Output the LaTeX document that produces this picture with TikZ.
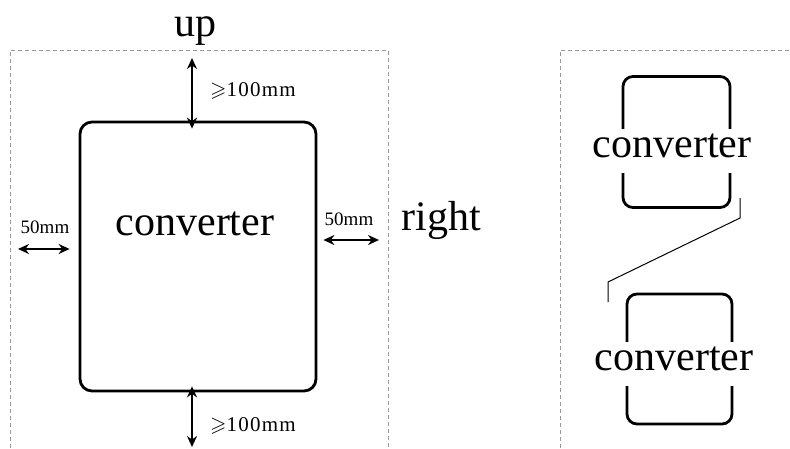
\documentclass[tikz,border=0pt]{standalone}
\usepackage{fontspec}
\setmainfont{Liberation Serif}
\newfontfamily\gapfont[LetterSpace=6]{Liberation Serif}
\usepackage{amssymb}
\usetikzlibrary{arrows.meta, positioning}

\tikzset{
  frame/.style={gray!80, line width=0.8pt, dash pattern=on 4pt off 3pt},
  unit/.style={draw, line width=2.8pt, rounded corners=12pt, inner sep=0pt},
  bigtext/.style={font=\fontsize{42}{48}\selectfont, inner sep=0pt, anchor=base},
  tag/.style={bigtext, fill=white, text height=28pt, text depth=16pt},
  gaptext/.style={font=\gapfont\fontsize{21}{24}\selectfont, inner sep=0pt, anchor=base west},
  sidetext/.style={font=\fontsize{19}{22}\selectfont, inner sep=0pt, anchor=base},
  dim/.style={line width=1.8pt, {Stealth[length=11pt,width=10pt]}-{Stealth[length=11pt,width=10pt]}},
  link/.style={line width=1pt},
}

\begin{document}
\begin{tikzpicture}[x=1pt, y=-1pt]
    \useasboundingbox[fill=white] (0,0) rectangle (790,448);

    % Left: clearance around one converter
    \draw[frame] (10,448) -- (10,50) -- (388,50) -- (388,448);
    \node[bigtext] (up) at (195,36) {up};
    \node[bigtext] (right) at (441,230) {right};

    \node[unit, minimum width=236pt, minimum height=269pt] (conv) at (198,256.5) {};
    \node[bigtext] (convlabel) at (195,235) {converter};

    % Clearance arrows
    \coordinate (ftop) at (192,58);
    \coordinate (fbot) at (192,447);
    \coordinate (fleft) at (18,249);
    \coordinate (fright) at (379,240);
    \draw[dim] (ftop) -- ([yshift=-8pt]ftop |- conv.north);
    \draw[dim] ([yshift=6pt]fbot |- conv.south) -- (fbot);
    \draw[dim] (fleft) -- ([xshift=-9pt]fleft -| conv.west);
    \draw[dim] ([xshift=6pt]fright -| conv.east) -- (fright);

    \node[gaptext] (topgap) at (210,96) {$\geqslant$100mm};
    \node[gaptext] (botgap) at (210,431) {$\geqslant$100mm};
    \node[sidetext] (leftgap) at (45,233) {50mm};
    \node[sidetext] (rightgap) at (349,225) {50mm};

    % Right: two converters stacked
    \draw[frame] (560,448) -- (560,50) -- (790,50);
    \node[unit, rounded corners=10pt, minimum width=107pt, minimum height=131pt] (upper) at (676.5,142) {};
    \node[tag] (upperlabel) at (672,157) {converter};
    \node[unit, rounded corners=10pt, minimum width=105pt, minimum height=130pt] (lower) at (679.5,359) {};
    \node[tag] (lowerlabel) at (674,370) {converter};

    \coordinate (ua) at (740,198);
    \coordinate (ub) at (740,218);
    \coordinate (la) at (608,282);
    \coordinate (lb) at (608,302);
    \draw[link] (ua) -- (ub) -- (la) -- (lb);
\end{tikzpicture}
\end{document}
